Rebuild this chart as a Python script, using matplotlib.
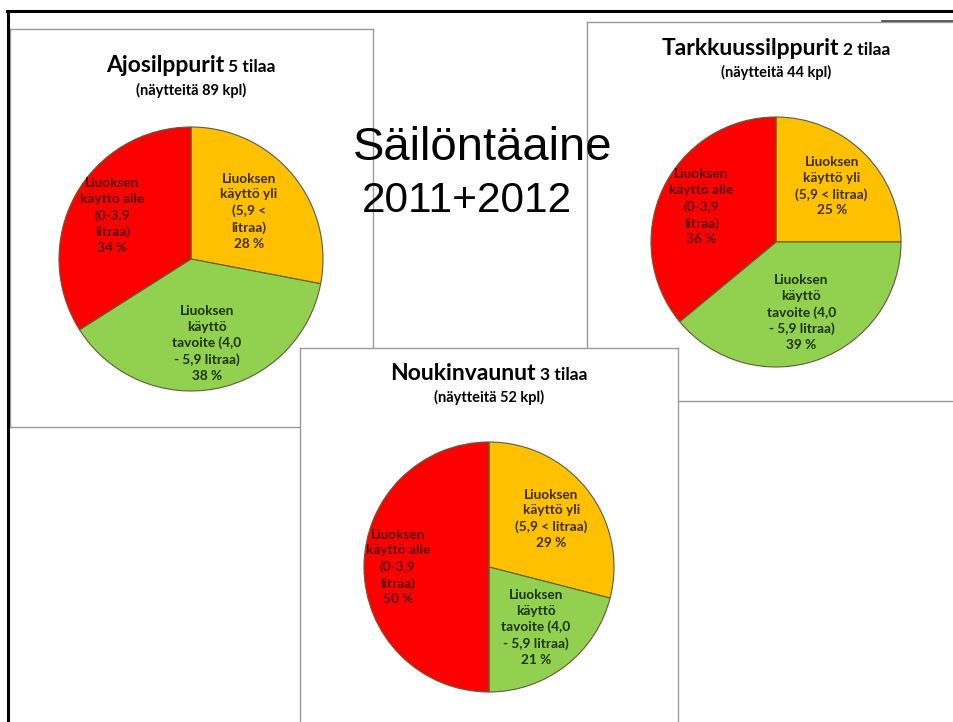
import matplotlib.pyplot as plt
from matplotlib.lines import Line2D

# chart data
panel_names = ["Ajosilppurit", "Tarkkuussilppurit", "Noukinvaunut"]
panel_farms = ["5 tilaa", "2 tilaa", "3 tilaa"]
sample_counts = [89, 44, 52]
share_over = [28, 25, 29]      # Liuoksen käyttö yli (5,9 < litraa)
share_target = [38, 39, 21]    # Liuoksen käyttö tavoite (4,0 - 5,9 litraa)
share_under = [34, 36, 50]     # Liuoksen käyttö alle (0-3,9 litraa)
label_over = ["Liuoksen\nkäyttö yli\n(5,9 <\nlitraa)",
              "Liuoksen\nkäyttö yli\n(5,9 < litraa)",
              "Liuoksen\nkäyttö yli\n(5,9 < litraa)"]
label_target = "Liuoksen\nkäyttö\ntavoite (4,0\n- 5,9 litraa)"
label_under = "Liuoksen\nkäyttö alle\n(0-3,9\nlitraa)"
main_title = "Säilöntäaine"
main_years = "2011+2012"

W, H = 954, 722
colors = ["#FFC000", "#92D050", "#FF0000"]
text_colors = ["#3d2e00", "#1c3300", "#5c0000"]
FONT = "Lato"

# panel boxes (left, top, right, bottom) and pies (cx, cy, r) in pixels
boxes = [(10, 29, 373, 427), (587, 22, 975, 401), (300, 348, 678, 740)]
pies = [(191, 259, 132), (776, 242, 125), (489, 567, 125)]
title_y = [72, 55, 380]
sub_y = [90, 72, 397]
label_dist = [[0.57, 0.65, 0.68], [0.63, 0.60, 0.66], [0.63, 0.61, 0.73]]


def fx(px):
    return px / W


def fy(py):
    return 1 - py / H


fig = plt.figure(figsize=(W / 100, H / 100), dpi=100)

# slide frame
fig.add_artist(Line2D([fx(7), 1], [fy(11), fy(11)], color="black", lw=2.2))
fig.add_artist(Line2D([fx(8), fx(8)], [fy(11), 0], color="black", lw=2.2))

titles = []
for i in range(3):
    l, t, r, b = boxes[i]
    box = fig.add_axes([fx(l), fy(b), (r - l) / W, (b - t) / H])
    box.set_xticks([])
    box.set_yticks([])
    box.set_facecolor("white")
    for sp in box.spines.values():
        sp.set_color("#9a9a9a")
        sp.set_linewidth(1.0)

    cx, cy, rad = pies[i]
    ax = fig.add_axes([fx(cx - rad), fy(cy + rad), 2 * rad / W, 2 * rad / H])
    values = [share_over[i], share_target[i], share_under[i]]
    labels = [label_over[i], label_target, label_under]
    labels = [f"{lab}\n{v} %" for lab, v in zip(labels, values)]
    wedges, texts = ax.pie(
        values,
        labels=labels,
        colors=colors,
        startangle=90,
        counterclock=False,
        labeldistance=1.0,
        wedgeprops=dict(edgecolor="#5e5e3a", linewidth=0.8),
        textprops=dict(ha="center", va="center", fontsize=9.8,
                       fontweight="bold", family=FONT, linespacing=1.38),
    )
    for j, txt in enumerate(texts):
        x, y = txt.get_position()
        txt.set_position((x * label_dist[i][j], y * label_dist[i][j]))
        txt.set_color(text_colors[j])
    ax.set_xlim(-1, 1)
    ax.set_ylim(-1, 1)
    ax.set_axis_off()

    t1 = fig.text(fx(cx), fy(title_y[i]), panel_names[i], ha="left",
                  va="baseline", fontsize=16.5, fontweight="bold", family=FONT)
    t2 = fig.text(fx(cx), fy(title_y[i]), panel_farms[i], ha="left",
                  va="baseline", fontsize=12.5, fontweight="bold", family=FONT)
    fig.text(fx(cx), fy(sub_y[i]), f"(näytteitä {sample_counts[i]} kpl)",
             ha="center", va="center", fontsize=10.5, fontweight="bold",
             family=FONT)
    titles.append((t1, t2, cx))

fig.add_artist(Line2D([fx(882), 1], [fy(21), fy(21)], color="#404040", lw=1.2))

fig.text(fx(353), fy(160), main_title, ha="left", va="baseline",
         fontsize=34, family="Liberation Sans")
fig.text(fx(362), fy(212), main_years, ha="left", va="baseline",
         fontsize=30.5, family="Liberation Sans")

# center the two-size panel titles
fig.canvas.draw()
rend = fig.canvas.get_renderer()
for t1, t2, cx in titles:
    w1 = t1.get_window_extent(rend).width
    w2 = t2.get_window_extent(rend).width
    gap = 4
    left = cx - (w1 + gap + w2) / 2
    t1.set_x(fx(left))
    t2.set_x(fx(left + w1 + gap))

fig.savefig("out.png", dpi=100)
